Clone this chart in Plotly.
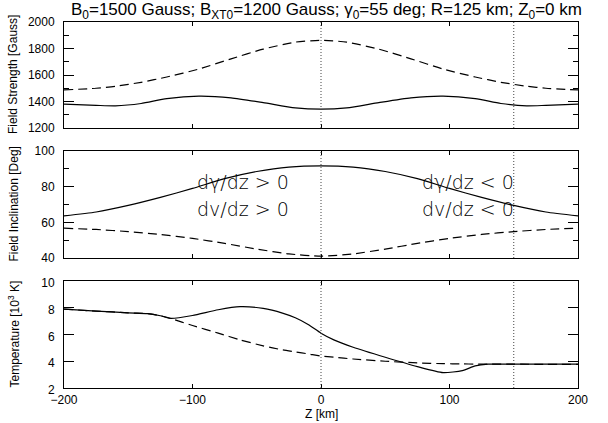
import plotly.graph_objects as go

# ---------------- data ----------------
z_B = [-200, -175, -160, -140, -120, -95, -70, -45, -20, 0, 20, 45, 70, 95, 120, 140, 160, 175, 200]
B_total = [1380, 1371, 1367, 1385, 1422, 1441, 1428, 1392, 1352, 1342, 1352, 1392, 1428, 1441, 1422, 1385, 1367, 1371, 1380]
B_dashed = [1487, 1500, 1515, 1545, 1585, 1645, 1722, 1795, 1848, 1862, 1848, 1795, 1722, 1645, 1585, 1545, 1515, 1500, 1487]

z_G = [-200, -175, -150, -125, -100, -75, -50, -25, 0, 25, 50, 75, 100, 125, 150, 175, 200]
G_solid = [63.6, 65.8, 69.5, 74.0, 79.0, 84.5, 88.5, 91.0, 91.7, 91.0, 88.5, 84.5, 79.0, 74.0, 69.5, 65.8, 63.6]
G_dashed = [56.7, 56.0, 54.8, 53.2, 51.0, 48.2, 45.0, 42.3, 41.0, 42.3, 45.0, 48.2, 51.0, 53.2, 54.8, 56.0, 56.7]

z_T = [-200, -175, -150, -135, -125, -117, -100, -80, -63, -45, -30, -20, -10, 0, 10, 25, 50, 75, 95, 110, 120, 130, 150, 175, 200]
T_solid = [7.90, 7.75, 7.62, 7.56, 7.40, 7.20, 7.42, 7.85, 8.08, 7.95, 7.60, 7.25, 6.75, 6.10, 5.60, 5.05, 4.30, 3.60, 3.15, 3.30, 3.65, 3.78, 3.78, 3.78, 3.78]
T_dashed = [7.90, 7.75, 7.62, 7.56, 7.40, 7.20, 6.67, 6.10, 5.60, 5.15, 4.85, 4.70, 4.55, 4.39, 4.30, 4.17, 4.00, 3.88, 3.82, 3.80, 3.79, 3.78, 3.78, 3.77, 3.77]

x_ticks = [-200, -100, 0, 100, 200]
z_marks = [0, 150]

title_text = ("B<sub>0</sub>=1500 Gauss; B<sub>XT0</sub>=1200 Gauss; "
              "γ<sub>0</sub>=55 deg; R=125 km; Z<sub>0</sub>=0 km")
y_titles = ["Field Strength [Gauss]", "Field Inclination [Deg]", "Temperature [10<sup>3</sup> K]"]
notes_left = ["dγ/dz > 0", "dv/dz > 0"]
notes_right = ["dγ/dz < 0", "dv/dz < 0"]

# ---------------- figure ----------------
FONT = "Liberation Sans"
NOTE_FONT = "DejaVu Sans"
W, H = 608, 423
ML, MR, MT, MB = 64, 30, 22, 35
PH = H - MT - MB

def py(pix):
    return (H - MB - pix) / PH

def px(pix):
    return (pix - ML) / (W - ML - MR)

fig = go.Figure()
line_solid = dict(color="black", width=1.2, shape="spline", smoothing=0.6)
line_dash = dict(color="black", width=1.2, shape="spline", smoothing=0.6, dash="9px,5px")

for (z, s, d, xa, ya) in [(z_B, B_total, B_dashed, "x", "y"),
                          (z_G, G_solid, G_dashed, "x2", "y2"),
                          (z_T, T_solid, T_dashed, "x3", "y3")]:
    fig.add_trace(go.Scatter(x=z, y=d, mode="lines", line=line_dash, xaxis=xa, yaxis=ya, showlegend=False))
    fig.add_trace(go.Scatter(x=z, y=s, mode="lines", line=line_solid, xaxis=xa, yaxis=ya, showlegend=False))

domains = [[py(128), py(22)], [py(258), py(151)], [0, py(281)]]

xcommon = dict(range=[-200, 200], tickvals=x_ticks, ticks="inside", ticklen=4, tickcolor="black",
               showline=True, linecolor="black", linewidth=1, mirror="ticks", showgrid=False,
               zeroline=False, tickfont=dict(family=FONT, size=12, color="black"))
ycommon = dict(ticks="inside", ticklen=10, tickcolor="black", showline=True, linecolor="black",
               linewidth=1, mirror="ticks", showgrid=False, zeroline=False,
               tickfont=dict(family=FONT, size=12, color="black"), ticklabelstandoff=6)

fig.update_layout(
    xaxis=dict(xcommon, anchor="y", showticklabels=False),
    xaxis2=dict(xcommon, anchor="y2", showticklabels=False),
    xaxis3=dict(xcommon, anchor="y3", showticklabels=True, ticklabelstandoff=1),
    yaxis=dict(ycommon, domain=domains[0], range=[1200, 2000], tick0=1200, dtick=200, anchor="x",
               minor=dict(dtick=100, tick0=1200, ticks="inside", ticklen=5, tickcolor="black", showgrid=False)),
    yaxis2=dict(ycommon, domain=domains[1], range=[40, 100], tick0=40, dtick=20, anchor="x2",
                minor=dict(dtick=10, tick0=40, ticks="inside", ticklen=5, tickcolor="black", showgrid=False)),
    yaxis3=dict(ycommon, domain=domains[2], range=[2, 10], tick0=2, dtick=2, anchor="x3",
                ticklabelshift=2),
    width=W, height=H, margin=dict(l=ML, r=MR, t=MT, b=MB),
    plot_bgcolor="white", paper_bgcolor="white",
    font=dict(family=FONT, size=12, color="black"),
)

# vertical dotted markers
for xa, ya in [("x", "y"), ("x2", "y2"), ("x3", "y3")]:
    for zm in z_marks:
        fig.add_shape(type="line", xref=xa, yref=f"{ya} domain", x0=zm, x1=zm, y0=0, y1=1,
                      line=dict(color="#444444", width=1, dash="1px,2px"))

ann = []
ann.append(dict(text=title_text, x=px(326), y=py(11), xref="paper", yref="paper",
                showarrow=False, xanchor="center", yanchor="middle",
                font=dict(family=FONT, size=17, color="black")))
for t, yp in zip(y_titles, [75, 204.5, 334.5]):
    ann.append(dict(text=t, x=px(13), y=py(yp), xref="paper", yref="paper", textangle=-90,
                    showarrow=False, xanchor="center", yanchor="middle",
                    font=dict(family=FONT, size=12, color="black")))
ann.append(dict(text="Z [km]", x=px(321), y=py(414), xref="paper", yref="paper",
                showarrow=False, xanchor="center", yanchor="middle",
                font=dict(family=FONT, size=12, color="black")))
for t, yv in zip(notes_left, [82.8, 67.5]):
    ann.append(dict(text=t, x=-60.7, y=yv, xref="x2", yref="y2", showarrow=False,
                    xanchor="center", yanchor="middle",
                    font=dict(family=NOTE_FONT, size=19, color="black", weight=200)))
for t, yv in zip(notes_right, [82.8, 67.5]):
    ann.append(dict(text=t, x=114.4, y=yv, xref="x2", yref="y2", showarrow=False,
                    xanchor="center", yanchor="middle",
                    font=dict(family=NOTE_FONT, size=19, color="black", weight=200)))
fig.update_layout(annotations=ann)

fig.write_html("out.html")
